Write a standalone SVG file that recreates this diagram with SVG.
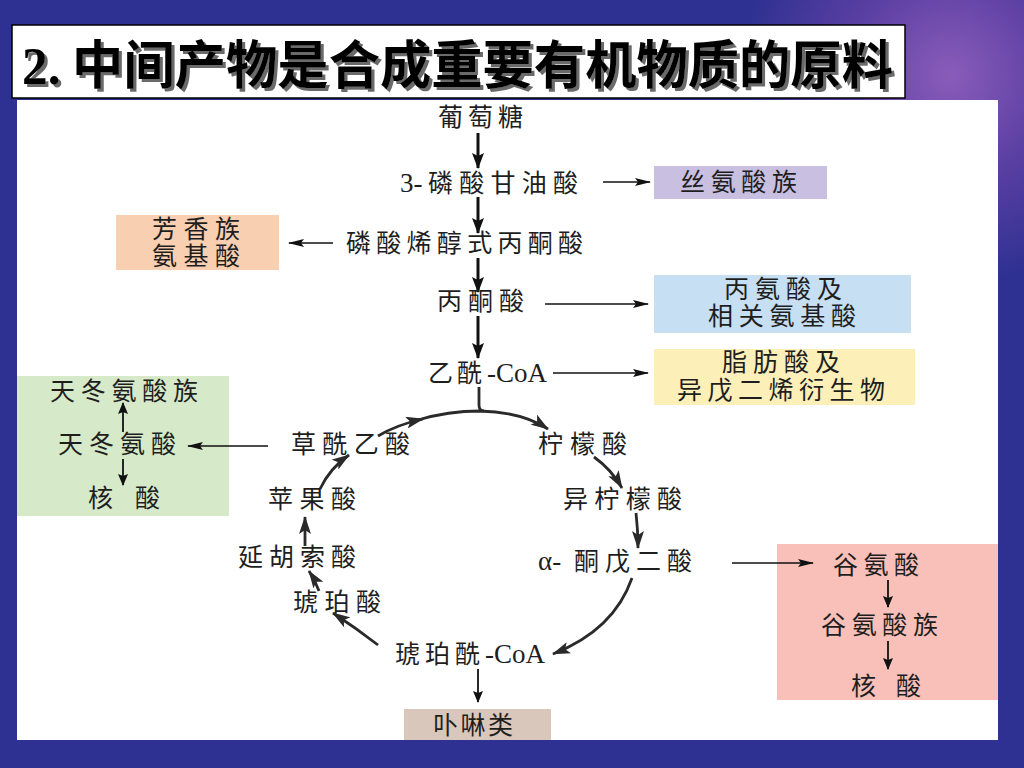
<svg xmlns="http://www.w3.org/2000/svg" width="1024" height="768" viewBox="0 0 1024 768">
<defs>
<radialGradient id="glow" cx="950" cy="75" r="210" gradientUnits="userSpaceOnUse">
<stop offset="0" stop-color="#8a5cba"/>
<stop offset="0.5" stop-color="#5a3fa2"/>
<stop offset="1" stop-color="#2e3192"/>
</radialGradient>
<filter id="shadow" x="-5%" y="-20%" width="110%" height="150%">
<feDropShadow dx="3" dy="3" stdDeviation="0.6" flood-color="#6a6a6a" flood-opacity="1"/>
</filter>
<marker id="big" markerUnits="userSpaceOnUse" markerWidth="16" markerHeight="12" refX="15" refY="6" orient="auto">
<path d="M0,0 L16,6 L0,12 L3,6 z" fill="#111"/>
</marker>
<marker id="cyc" markerUnits="userSpaceOnUse" markerWidth="18" markerHeight="12" refX="17" refY="6" orient="auto">
<path d="M0,0 L18,6 L0,12 L4,6 z" fill="#2a2a2a"/>
</marker>
<marker id="thin" markerUnits="userSpaceOnUse" markerWidth="16" markerHeight="8" refX="15" refY="4" orient="auto">
<path d="M0,0 L16,4 L0,8 L3,4 z" fill="#111"/>
</marker>
<marker id="small" markerUnits="userSpaceOnUse" markerWidth="12" markerHeight="10" refX="11" refY="5" orient="auto">
<path d="M0,0 L12,5 L0,10 L2,5 z" fill="#111"/>
</marker>
<style>
.t{font-family:"Liberation Serif","Noto Sans CJK SC",serif;font-size:25px;fill:#1e1e1e}
.lat{font-size:27px}
.title{font-family:"Noto Sans CJK SC","Liberation Sans",sans-serif;font-size:52px;font-weight:bold;fill:#000}
.v{stroke:#111;stroke-width:3;fill:none}
.h{stroke:#111;stroke-width:1.4;fill:none}
.s{stroke:#111;stroke-width:1.8;fill:none}
.c{stroke:#2a2a2a;stroke-width:2.8;fill:none}
</style>
</defs>

<rect x="0" y="0" width="1024" height="768" fill="#2e3192"/>
<rect x="0" y="0" width="1024" height="768" fill="url(#glow)"/>
<rect x="17" y="100" width="981" height="640" fill="#ffffff"/>

<g id="title">
<rect x="12" y="25" width="893" height="73" fill="#ffffff" stroke="#000" stroke-width="1.5"/>
<text class="title" x="22" y="84" textLength="871" lengthAdjust="spacingAndGlyphs" filter="url(#shadow)"><tspan font-family="Liberation Serif">2.</tspan> 中间产物是合成重要有机物质的原料</text>
</g>

<g id="boxes">
<rect id="box-ser" x="654" y="166" width="173" height="33" fill="#c9bfe0"/>
<rect id="box-aro" x="116" y="215" width="163" height="55" fill="#f8cfb1"/>
<rect id="box-ala" x="654" y="275" width="257" height="58" fill="#c6dff2"/>
<rect id="box-fat" x="654" y="349" width="261" height="56" fill="#fcefb8"/>
<rect id="box-asp" x="17" y="376" width="212" height="140" fill="#d6e9c8"/>
<rect id="box-glu" x="777" y="544" width="221" height="156" fill="#f8c0b9"/>
<rect id="box-por" x="404" y="709" width="147" height="31" fill="#d9c7bb"/>
</g>

<g id="connectors">
<line class="v" x1="478" y1="133" x2="478" y2="168" marker-end="url(#big)"/>
<line class="v" x1="478" y1="197" x2="478" y2="233" marker-end="url(#big)"/>
<line class="v" x1="478" y1="258" x2="478" y2="292" marker-end="url(#big)"/>
<line class="v" x1="478" y1="316" x2="478" y2="358" marker-end="url(#big)"/>
<path class="c" d="M479,387 L479,405 Q479,411 484,411"/>

<line class="h" x1="603" y1="182" x2="650" y2="182" marker-end="url(#thin)"/>
<line class="h" x1="333" y1="243" x2="289" y2="243" marker-end="url(#thin)"/>
<line class="h" x1="545" y1="304" x2="648" y2="304" marker-end="url(#thin)"/>
<line class="h" x1="553" y1="373" x2="648" y2="373" marker-end="url(#thin)"/>
<line class="h" x1="268" y1="446" x2="188" y2="446" marker-end="url(#thin)"/>
<line class="h" x1="732" y1="563" x2="813" y2="563" marker-end="url(#thin)"/>

<line class="s" x1="123" y1="432" x2="123" y2="403" marker-end="url(#small)"/>
<line class="s" x1="123" y1="459" x2="123" y2="485" marker-end="url(#small)"/>
<line class="s" x1="888" y1="580" x2="888" y2="607" marker-end="url(#small)"/>
<line class="s" x1="888" y1="641" x2="888" y2="669" marker-end="url(#small)"/>
<line class="s" x1="478" y1="669" x2="478" y2="702" marker-end="url(#small)"/>

<path class="c" d="M378,436 Q396,425 423,419" marker-end="url(#cyc)"/>
<path class="c" d="M418,420 Q448,411 480,411 Q522,412 548,429" marker-end="url(#cyc)"/>
<path class="c" d="M594,457 Q611,469 622,488" marker-end="url(#cyc)"/>
<path class="c" d="M636,513 Q638,530 638,548" marker-end="url(#cyc)"/>
<path class="c" d="M632,578 Q614,630 553,654" marker-end="url(#cyc)"/>
<path class="c" d="M378,645 Q356,628 333,613" marker-end="url(#cyc)"/>
<path class="c" d="M319,591 Q315,580 309,571" marker-end="url(#cyc)"/>
<path class="c" d="M305,546 L305,517" marker-end="url(#cyc)"/>
<path class="c" d="M320,489 Q330,468 349,455" marker-end="url(#cyc)"/>
</g>

<g id="n-glucose"><text class="t" x="438" y="126" textLength="85" lengthAdjust="spacing">葡萄糖</text></g>
<g id="n-3pga"><text class="t" y="192"><tspan class="lat" x="400">3-</tspan><tspan x="428" textLength="150" lengthAdjust="spacing">磷酸甘油酸</tspan></text></g>
<g id="n-pep"><text class="t" x="346" y="252" textLength="237" lengthAdjust="spacing">磷酸烯醇式丙酮酸</text></g>
<g id="n-pyr"><text class="t" x="437" y="310" textLength="87" lengthAdjust="spacing">丙酮酸</text></g>
<g id="n-acoa"><text class="t" y="382"><tspan x="428" textLength="54" lengthAdjust="spacing">乙酰</tspan><tspan class="lat" x="487">-CoA</tspan></text></g>
<g id="n-cit"><text class="t" x="538" y="453" textLength="89" lengthAdjust="spacing">柠檬酸</text></g>
<g id="n-icit"><text class="t" x="563" y="508" textLength="119" lengthAdjust="spacing">异柠檬酸</text></g>
<g id="n-akg"><text class="t" y="570"><tspan class="lat" x="538">α-</tspan><tspan x="574" textLength="118" lengthAdjust="spacing">酮戊二酸</tspan></text></g>
<g id="n-scoa"><text class="t" y="663"><tspan x="395" textLength="85" lengthAdjust="spacing">琥珀酰</tspan><tspan class="lat" x="485">-CoA</tspan></text></g>
<g id="n-suc"><text class="t" x="293" y="611" textLength="88" lengthAdjust="spacing">琥珀酸</text></g>
<g id="n-fum"><text class="t" x="238" y="566" textLength="118" lengthAdjust="spacing">延胡索酸</text></g>
<g id="n-mal"><text class="t" x="268" y="508" textLength="88" lengthAdjust="spacing">苹果酸</text></g>
<g id="n-oaa"><text class="t" x="291" y="453" textLength="119" lengthAdjust="spacing">草酰乙酸</text></g>

<g id="n-ser"><text class="t" x="680" y="191" textLength="117" lengthAdjust="spacing">丝氨酸族</text></g>
<g id="n-aro"><text class="t" x="152" y="238" textLength="88" lengthAdjust="spacing">芳香族</text><text class="t" x="152" y="265" textLength="88" lengthAdjust="spacing">氨基酸</text></g>
<g id="n-ala"><text class="t" x="724" y="298" textLength="118" lengthAdjust="spacing">丙氨酸及</text><text class="t" x="708" y="325" textLength="148" lengthAdjust="spacing">相关氨基酸</text></g>
<g id="n-fat"><text class="t" x="722" y="371" textLength="118" lengthAdjust="spacing">脂肪酸及</text><text class="t" x="677" y="399" textLength="208" lengthAdjust="spacing">异戊二烯衍生物</text></g>
<g id="n-asp"><text class="t" x="50" y="400" textLength="148" lengthAdjust="spacing">天冬氨酸族</text><text class="t" x="58" y="453" textLength="118" lengthAdjust="spacing">天冬氨酸</text><text class="t" x="88" y="507" textLength="72" lengthAdjust="spacing">核 酸</text></g>
<g id="n-glu"><text class="t" x="833" y="574" textLength="86" lengthAdjust="spacing">谷氨酸</text><text class="t" x="821" y="634" textLength="117" lengthAdjust="spacing">谷氨酸族</text><text class="t" x="851" y="695" textLength="70" lengthAdjust="spacing">核 酸</text></g>
<g id="n-por"><text class="t" x="433" y="734" textLength="80" lengthAdjust="spacing">卟啉类</text></g>
</svg>
